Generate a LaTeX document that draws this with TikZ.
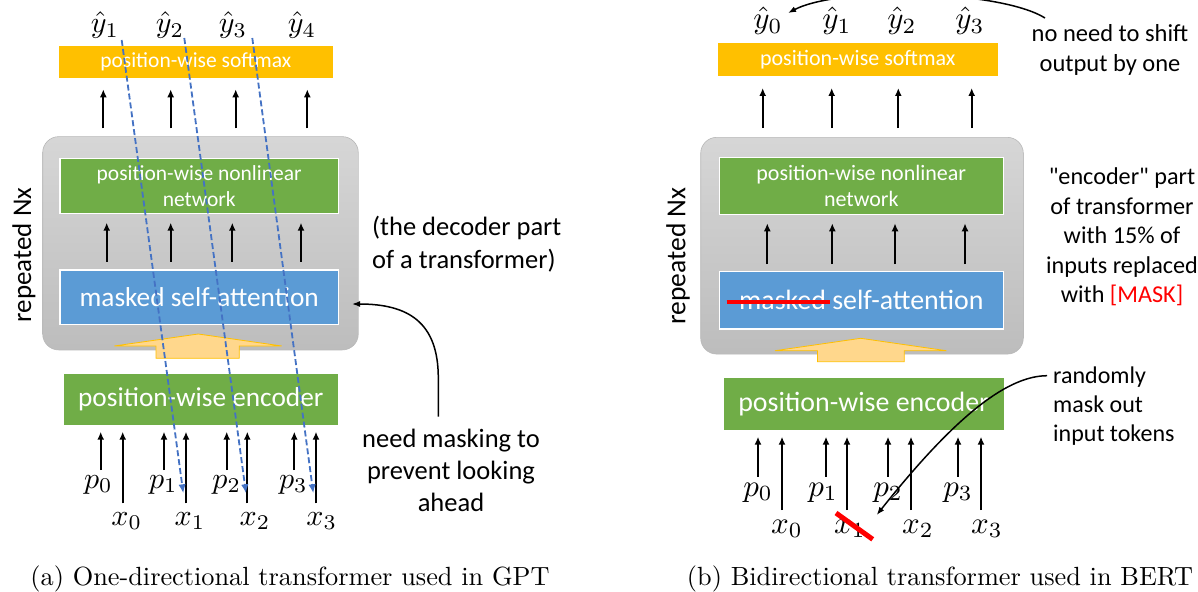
\documentclass[tikz,border=0pt]{standalone}
\usepackage{fontspec}
\newfontfamily\calib{Carlito}
\usetikzlibrary{arrows.meta}
\definecolor{boxorange}{HTML}{FFC000}
\definecolor{boxgreen}{HTML}{70AD47}
\definecolor{boxblue}{HTML}{5B9BD5}
\definecolor{dashblue}{HTML}{4472C4}
\definecolor{paleorange}{HTML}{FFD78C}
\definecolor{strikered}{HTML}{FF0000}
\newcommand{\cfs}[1]{\calib\fontsize{#1}{#1}\selectfont\baselineskip=1.22\baselineskip}
\tikzset{
  layer/.style={fill=#1, draw=white, line width=1.3pt, inner sep=0pt,
    text=white, align=center},
  repbox/.style={rounded corners=16pt, top color=black!16, bottom color=black!26,
    draw=black!28, line width=0.6pt, inner sep=0pt},
  up/.style={line width=1.8pt, -{Latex[length=8pt,width=7pt]}},
  note/.style={align=center, inner sep=0pt, text=black},
  mathlbl/.style={anchor=base, inner sep=0pt},
  lookahead/.style={dashblue, line width=1.8pt, dash pattern=on 6pt off 3pt,
    -{Latex[length=9pt,width=7.5pt]}},
  pointer/.style={line width=1.5pt, -{Latex[length=8pt,width=6pt]}},
  feed/.style={fill=paleorange, draw=boxorange, line width=0.8pt, line join=miter},
  strike/.style={strikered, line width=4pt},
  caption/.style={anchor=base, inner sep=0pt}
}
\begin{document}
\begin{tikzpicture}[x=1pt,y=-1pt]
\useasboundingbox (0,0) rectangle (1198,591);
\fill[white] (0,0) rectangle (1198,591);

%% ---------------- left: one-directional (GPT) ----------------
\node[repbox, minimum width=315.6pt, minimum height=213.3pt] (lrep) at (200.5,243.3) {};
\node[layer=boxorange, minimum width=275pt, minimum height=34pt, font=\cfs{21.5}] (lsm) at (195.8,62) {position-wise softmax};
\node[layer=boxgreen, minimum width=278.3pt, minimum height=55pt, font=\cfs{21.5}] (lnl) at (199.2,185.8) {position-wise nonlinear\\network};
\node[layer=boxblue, minimum width=278.3pt, minimum height=54.3pt, font=\cfs{27.3}] (lsa) at (199.2,297.2) {masked self-attention};
\draw[feed] (114.3,346) -- (198.3,334) -- (281.7,346) -- (239.3,346) -- (239.3,358.3)
  -- (156,358.3) -- (156,346) -- cycle;
\node[layer=boxgreen, minimum width=275pt, minimum height=52.4pt, font=\cfs{27.3}] (lenc) at (200.8,399.5) {position-wise encoder};

\node[rotate=90, note, font=\cfs{27}] (lrepl) at (24,255) {repeated Nx};

% stubs between the layers
\foreach \i/\xa in {1/103.3,2/170.7,3/235.7,4/307.3} {
  \coordinate (lo\i) at (\xa,128.3); \coordinate (lot\i) at (\xa,89.3);
  \draw[up] (lo\i) -- (lot\i);
}
\foreach \i/\xa in {1/106.7,2/170.7,3/232.3,4/301} {
  \coordinate (li\i) at (\xa,261.7); \coordinate (lit\i) at (\xa,222.7);
  \draw[up] (li\i) -- (lit\i);
}
% position and token inputs
\foreach \i/\xp/\xx in {0/100.7/122.7,1/164/186,2/226.7/247.3,3/294.3/316} {
  \coordinate (lp\i) at (\xp,470); \coordinate (lpt\i) at (\xp,431.7);
  \coordinate (lx\i) at (\xx,503.3); \coordinate (lxt\i) at (\xx,431.7);
  \draw[up] (lp\i) -- (lpt\i);
  \draw[up] (lx\i) -- (lxt\i);
}
\foreach \i/\xp in {0/98.3,1/163.3,2/226.7,3/293.3}
  \node[mathlbl] (lpl\i) at (\xp,488) {\scalebox{3}{$p_{\i}$}};
\foreach \i/\xx in {0/126.7,1/190,2/255,3/321.7}
  \node[mathlbl] (lxl\i) at (\xx,525) {\scalebox{3}{$x_{\i}$}};
\foreach \i/\xy in {1/105,2/170,3/233,4/302}
  \node[mathlbl] (lyl\i) at (\xy,33) {\scalebox{3}{$\hat{y}_{\i}$}};

% each output looks back to its own input position
\coordinate (ld1a) at (121.7,40);  \coordinate (ld1b) at (183.3,493.3);
\coordinate (ld2a) at (184.3,38);  \coordinate (ld2b) at (246,493.3);
\coordinate (ld3a) at (252.3,38);  \coordinate (ld3b) at (313.3,493.3);
\draw[lookahead] (ld1a) -- (ld1b);
\draw[lookahead] (ld2a) -- (ld2b);
\draw[lookahead] (ld3a) -- (ld3b);

\node[note, align=left, anchor=west, font=\cfs{26.5}] (ldec) at (372,244) {(the decoder part\\of a transformer)};
\node[note, font=\cfs{26.5}] (lmask) at (451,470.5) {need masking to\\prevent looking\\ahead};
\coordinate (lmaskfrom) at (438.3,416.7);
\coordinate (lmaskto) at (352,304);
\draw[pointer] (lmaskfrom) -- (438.3,378) .. controls (438.3,322) and (408,304) .. (lmaskto);

\node[caption] (capa) at (290,585) {\scalebox{2.63}{(a) One-directional transformer used in GPT}};

%% ---------------- right: bidirectional (BERT) ----------------
\node[repbox, minimum width=322.6pt, minimum height=216.7pt] (rrep) at (862,245.7) {};
\node[layer=boxorange, minimum width=281pt, minimum height=34pt, font=\cfs{22}] (rsm) at (857.8,59.7) {position-wise softmax};
\node[layer=boxgreen, minimum width=284pt, minimum height=56.6pt, font=\cfs{22}] (rnl) at (861.3,186) {position-wise nonlinear\\network};
\node[layer=boxblue, minimum width=284pt, minimum height=57.3pt, font=\cfs{27.9}] (rsa) at (861.3,300.3) {masked self-attention};
\coordinate (rsx1) at (726.7,301.7); \coordinate (rsx2) at (830,301.7);
\draw[strike] (rsx1) -- (rsx2);
\draw[feed] (775,350.7) -- (860.7,338.3) -- (946.4,350.7) -- (904.3,350.7) -- (904.3,361.7)
  -- (817.5,361.7) -- (817.5,350.7) -- cycle;
\node[layer=boxgreen, minimum width=281.4pt, minimum height=53pt, font=\cfs{27.9}] (renc) at (863.6,404.2) {position-wise encoder};

\node[rotate=90, note, font=\cfs{27.5}] (rrepl) at (678,256) {repeated Nx};

\foreach \i/\xa in {1/762.7,2/831.7,3/898.3,4/971.7} {
  \coordinate (ro\i) at (\xa,128); \coordinate (rot\i) at (\xa,88);
  \draw[up] (ro\i) -- (rot\i);
}
\foreach \i/\xa in {1/767.3,2/832.3,3/895,4/965} {
  \coordinate (ri\i) at (\xa,264); \coordinate (rit\i) at (\xa,223.3);
  \draw[up] (ri\i) -- (rit\i);
}
\foreach \i/\xp/\xx in {0/758/782,1/826/847,2/888/911,3/958/981} {
  \coordinate (rp\i) at (\xp,476.7); \coordinate (rpt\i) at (\xp,436.7);
  \coordinate (rx\i) at (\xx,510); \coordinate (rxt\i) at (\xx,436.7);
  \draw[up] (rp\i) -- (rpt\i);
  \draw[up] (rx\i) -- (rxt\i);
}
\foreach \i/\xp in {0/758,1/823,2/888,3/958}
  \node[mathlbl] (rpl\i) at (\xp,496) {\scalebox{3.1}{$p_{\i}$}};
\foreach \i/\xx in {0/787,1/850,2/918,3/987}
  \node[mathlbl] (rxl\i) at (\xx,533) {\scalebox{3.1}{$x_{\i}$}};
\foreach \i/\xy in {0/768,1/837,2/902,3/970}
  \node[mathlbl] (ryl\i) at (\xy,29) {\scalebox{3.1}{$\hat{y}_{\i}$}};

% the masked-out token
\coordinate (rxs1) at (836,513); \coordinate (rxs2) at (872.7,539.3);
\draw[strikered, line width=5pt] (rxs1) -- (rxs2);

\node[note, font=\cfs{24.5}] (rshift) at (1110,50) {no need to shift\\output by one};
\coordinate (rshiftfrom) at (1045,18);
\coordinate (rshiftto) at (788,13);
\draw[pointer] (rshiftfrom) .. controls (1000,-10) and (840,-14) .. (rshiftto);

\node[note, font=\cfs{24.2}] (renct) at (1122,237) {"encoder" part\\of transformer\\with 15\% of\\inputs replaced\\with {\color{strikered}[MASK]}};

\node[note, align=left, anchor=west, font=\cfs{24}] (rrand) at (1053,406) {randomly\\mask out\\input tokens};
\coordinate (rrandfrom) at (1047,375.7);
\coordinate (rrandto) at (876.7,515);
\draw[pointer] (rrandfrom) .. controls (1010,376) and (960,410) .. (rrandto);

\node[caption] (capb) at (940,585) {\scalebox{2.63}{(b) Bidirectional transformer used in BERT}};
\end{tikzpicture}
\end{document}
